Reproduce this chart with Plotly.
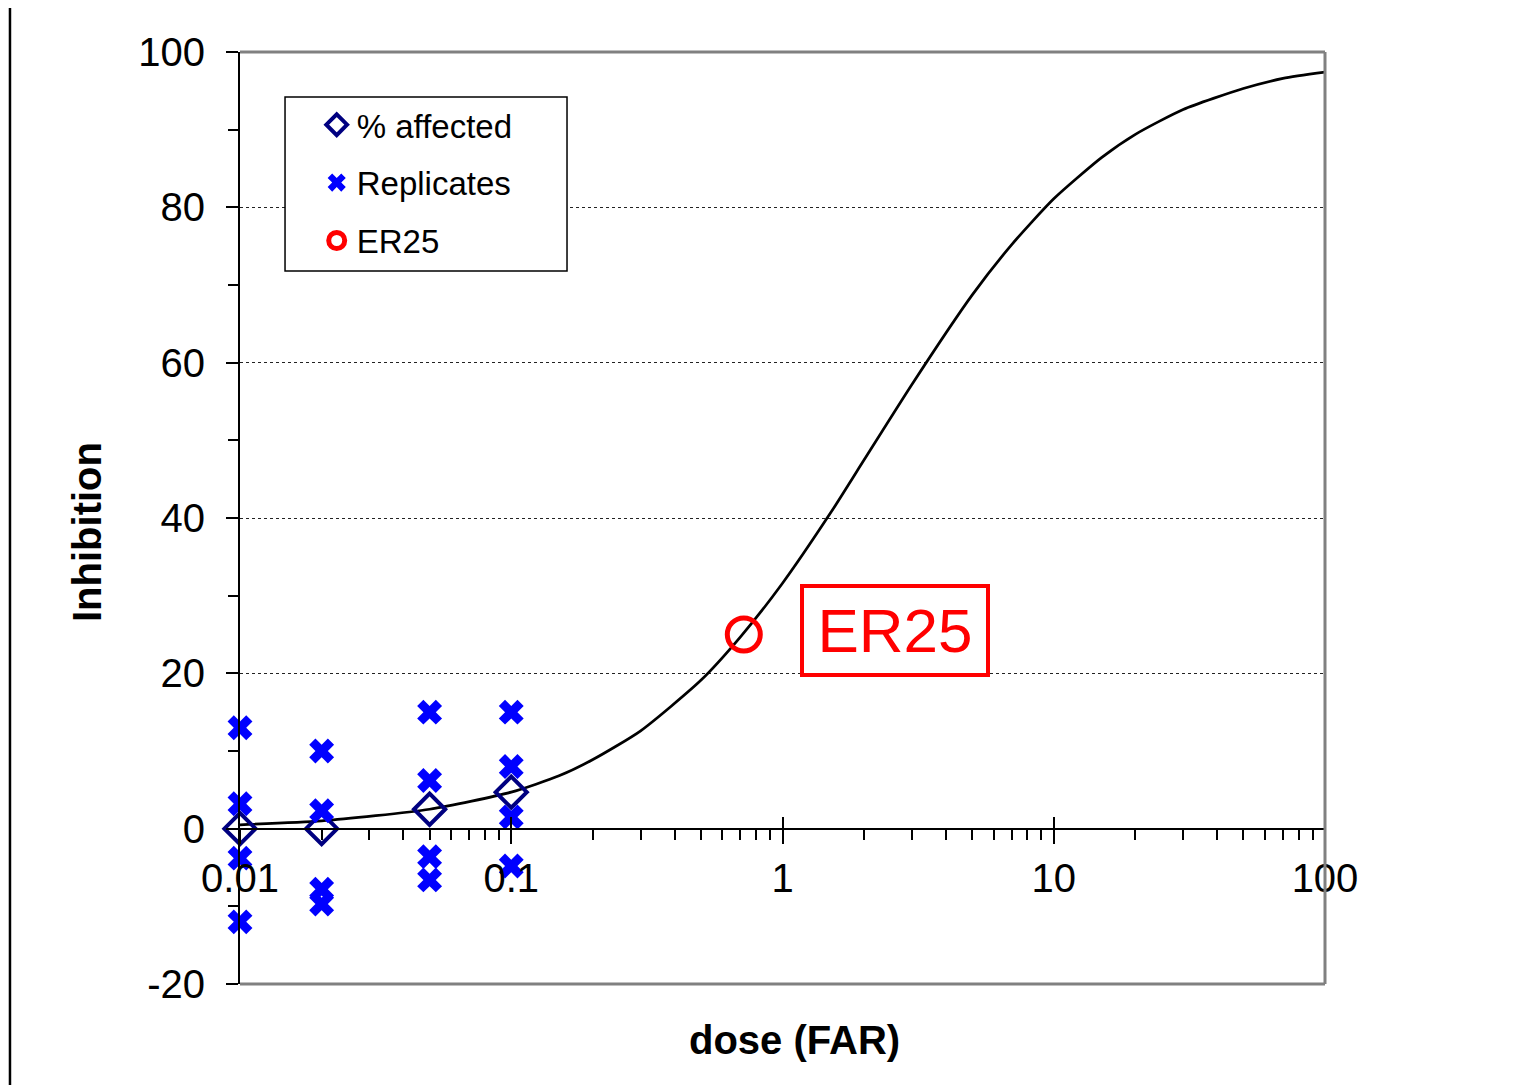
import numpy as np
import plotly.graph_objects as go

# ---- data ----
doses = [0.01, 0.02, 0.05, 0.1]
pct_affected = [0.0, 0.0, 2.5, 4.7]

rep_dose = [0.01, 0.01, 0.01, 0.01,
            0.02, 0.02, 0.02, 0.02,
            0.05, 0.05, 0.05, 0.05,
            0.1, 0.1, 0.1, 0.1]
rep_inh = [13.0, 3.2, -3.8, -12.0,
           10.0, 2.3, -7.8, -9.7,
           15.0, 6.2, -3.6, -6.6,
           15.0, 8.0, 1.5, -4.8]

curve_dose = [0.01, 0.02, 0.05, 0.1, 0.15, 0.2, 0.3, 0.5, 0.7, 1, 1.5, 2, 3,
              5, 7, 10, 15, 20, 30, 50, 70, 100]
curve_inh = [0.5, 1.0, 2.5, 4.7, 6.8, 8.9, 12.6, 19.1, 24.7, 31.6, 40.6, 47.5,
             57.2, 68.7, 75.2, 81.1, 86.4, 89.4, 92.6, 95.3, 96.6, 97.4]

er25_dose = [0.72]
er25_inh = [25.0]

x_tickvals = [0.01, 0.1, 1, 10, 100]
x_ticktext = ["0.01", "0.1", "1", "10", "100"]
y_tickvals = [-20, 0, 20, 40, 60, 80, 100]
y_ticktext = ["-20", "0", "20", "40", "60", "80", "100"]

FONT = "Arial, Liberation Sans, sans-serif"
XR = [-2, 2]
YR = [-20, 100]
xpos = (0 - YR[0]) / (YR[1] - YR[0])  # x axis drawn at y = 0

fig = go.Figure()

fig.add_trace(go.Scatter(
    x=curve_dose, y=curve_inh, mode="lines",
    line=dict(color="black", width=2.7, shape="spline", smoothing=0.6),
    showlegend=False, hoverinfo="skip", cliponaxis=False))

fig.add_trace(go.Scatter(
    x=doses, y=pct_affected, mode="markers", name="% affected", cliponaxis=False,
    marker=dict(symbol="diamond-open", size=24, color="#000080", line=dict(width=4, color="#000080")),
    legendgroup="a"))

fig.add_trace(go.Scatter(
    x=rep_dose, y=rep_inh, mode="markers", name="Replicates", cliponaxis=False,
    marker=dict(symbol="x", size=22, color="#0000FF", line=dict(width=0)),
    legendgroup="b"))

fig.add_trace(go.Scatter(
    x=er25_dose, y=er25_inh, mode="markers", name="ER25", cliponaxis=False,
    marker=dict(symbol="circle-open", size=33, color="#FF0000", line=dict(width=5, color="#FF0000")),
    legendgroup="c"))

# dummy trace so the overlay axis (crossing major ticks) is drawn
fig.add_trace(go.Scatter(x=[curve_dose[0]], y=[curve_inh[0]], xaxis="x2", mode="lines",
                         showlegend=False, hoverinfo="skip", line=dict(width=0)))

fig.update_layout(
    width=1517, height=1087,
    margin=dict(l=232, r=200, t=44, b=111),
    paper_bgcolor="white", plot_bgcolor="white",
    font=dict(family=FONT, size=40, color="black"),
    xaxis=dict(
        type="log", range=XR, anchor="free", position=xpos,
        showline=True, linecolor="black", linewidth=2,
        tickvals=x_tickvals, ticktext=x_ticktext,
        ticks="outside", ticklen=14, tickwidth=2, tickcolor="black",
        ticklabelstandoff=0,
        minor=dict(ticks="outside", ticklen=10, tickwidth=2, tickcolor="black", dtick="D1", showgrid=False),
        showgrid=False, zeroline=False,
        tickfont=dict(size=40, family=FONT),
    ),
    xaxis2=dict(
        type="log", range=XR, overlaying="x", anchor="free", position=xpos,
        showline=False, tickvals=x_tickvals, ticks="inside", ticklen=12, tickwidth=2,
        tickcolor="black", showticklabels=False, showgrid=False, zeroline=False,
    ),
    yaxis=dict(
        range=YR, tickvals=y_tickvals, ticktext=y_ticktext,
        showline=True, linecolor="black", linewidth=2,
        ticks="outside", ticklen=12, tickwidth=2, tickcolor="black",
        ticklabelstandoff=13,
        minor=dict(ticks="outside", ticklen=10, tickwidth=2, tickcolor="black", dtick=10, showgrid=False),
        showgrid=True, gridcolor="#222222", gridwidth=1, griddash="3px,3px",
        zeroline=False,
        tickfont=dict(size=40, family=FONT),
    ),
    legend=dict(
        x=0.0707, y=0.952, xanchor="left", yanchor="top",
        bgcolor="rgba(0,0,0,0)", borderwidth=0,
        font=dict(size=33, family=FONT), tracegroupgap=12, traceorder="grouped",
    ),
    showlegend=True,
)

# plot frame (grey top, right, bottom)
for (x0, y0, x1, y1) in [(0, 1, 1, 1), (1, 0, 1, 1), (0, 0, 1, 0)]:
    fig.add_shape(type="line", xref="x domain", yref="y domain", x0=x0, y0=y0, x1=x1, y1=y1,
                  line=dict(color="#808080", width=3), layer="above")

# legend box
fig.add_shape(type="rect", xref="paper", yref="paper", x0=0.0415, x1=0.3014, y0=0.765, y1=0.9517,
              line=dict(color="black", width=1.5), fillcolor="white", layer="above")

# left page line
fig.add_shape(type="line", xref="paper", yref="paper", x0=-0.212, x1=-0.212, y0=1.0472, y1=-0.1084,
              line=dict(color="black", width=2.5))

# ER25 label box
fig.add_annotation(x=np.log10(er25_dose[0]), y=er25_inh[0], xref="x", yref="y",
                   text="ER25", showarrow=False, xshift=151, yshift=4,
                   font=dict(size=62, color="#FF0000", family=FONT),
                   bordercolor="#FF0000", borderwidth=4, borderpad=0,
                   width=182, height=85, bgcolor="white")

# axis titles
fig.add_annotation(x=0.5115, y=-0.060, xref="paper", yref="paper", text="<b>dose (FAR)</b>",
                   showarrow=False, font=dict(size=40, family=FONT), xanchor="center", yanchor="middle")
fig.add_annotation(x=-0.141, y=0.485, xref="paper", yref="paper", text="<b>Inhibition</b>",
                   showarrow=False, textangle=-90, font=dict(size=40, family=FONT),
                   xanchor="center", yanchor="middle")

fig.write_html("out.html")
